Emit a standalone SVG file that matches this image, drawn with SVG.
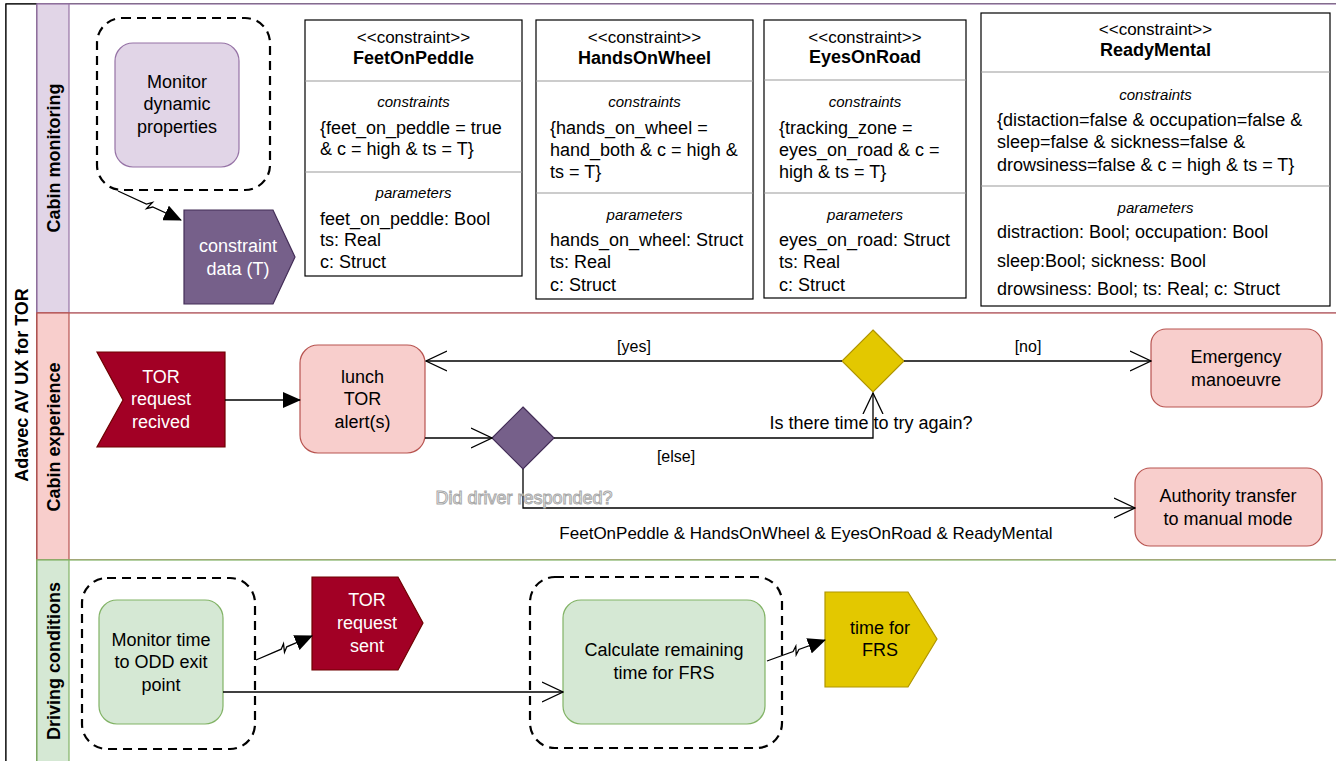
<svg xmlns="http://www.w3.org/2000/svg" width="1336" height="761" viewBox="0 0 1336 761">
<defs>
<style>
text{font-family:"Liberation Sans",Arial,Helvetica,sans-serif;fill:#000}
.t{font-size:18px;text-anchor:middle}
.w{fill:#fff}
.lane{font-size:18px;font-weight:bold;text-anchor:middle}
.st{font-size:17px;text-anchor:middle}
.nm{font-size:18px;font-weight:bold;text-anchor:middle}
.it{font-size:15px;font-style:italic;text-anchor:middle}
.bd{font-size:18px}
.el{font-size:16px;text-anchor:middle}
.dash{fill:none;stroke:#000;stroke-width:2.2;stroke-dasharray:9 6}
.box{fill:#fff;stroke:#000;stroke-width:1.2}
.div{stroke:#999;stroke-width:1}
.edge{fill:none;stroke:#000;stroke-width:1.3}
</style>
<marker id="block" markerUnits="userSpaceOnUse" markerWidth="18" markerHeight="16" viewBox="0 0 18 16" refX="17" refY="8" orient="auto">
<path d="M0,0 L18,8 L0,16 z" fill="#000"/>
</marker>
<marker id="open" markerUnits="userSpaceOnUse" markerWidth="22" markerHeight="22" viewBox="0 0 22 22" refX="21" refY="11" orient="auto">
<path d="M0,1 L21,11 L0,21" fill="none" stroke="#000" stroke-width="1.3"/>
</marker>
</defs>

<g id="pool">
<rect x="6" y="4" width="1340" height="780" fill="#fff" stroke="#000" stroke-width="1.2"/>
<rect x="6" y="4" width="31" height="780" fill="#fff" stroke="#000" stroke-width="1.2"/>
<text class="lane" transform="translate(28,385) rotate(-90)">Adavec AV UX for TOR</text>
</g>

<g id="lane-cabin-monitoring">
<rect x="37" y="4" width="1310" height="309" fill="#fff" stroke="#9673a6" stroke-width="1.2"/>
<rect x="37" y="4" width="32" height="309" fill="#e1d5e7" stroke="#9673a6" stroke-width="1.2"/>
<text class="lane" transform="translate(59.5,158) rotate(-90)">Cabin monitoring</text>
</g>
<g id="lane-cabin-experience">
<rect x="37" y="313" width="1310" height="247" fill="#fff" stroke="#b85450" stroke-width="1.2"/>
<rect x="37" y="313" width="32" height="247" fill="#f8cecc" stroke="#b85450" stroke-width="1.2"/>
<text class="lane" transform="translate(59.5,437) rotate(-90)">Cabin experience</text>
</g>
<g id="lane-driving-conditions">
<rect x="37" y="560" width="1310" height="224" fill="#fff" stroke="#82b366" stroke-width="1.2"/>
<rect x="37" y="560" width="32" height="224" fill="#d5e8d4" stroke="#82b366" stroke-width="1.2"/>
<text class="lane" transform="translate(59.5,661) rotate(-90)">Driving conditions</text>
</g>

<g id="group-monitor-dynamic">
<rect class="dash" x="97" y="18" width="173" height="172" rx="25"/>
</g>
<g id="monitor-dynamic-properties">
<rect x="115" y="43" width="124" height="124" rx="18" fill="#e1d5e7" stroke="#9673a6" stroke-width="1.2"/>
<text class="t" x="177" y="88">Monitor</text>
<text class="t" x="177" y="110">dynamic</text>
<text class="t" x="177" y="133">properties</text>
</g>
<g id="constraint-data">
<polygon points="184,210 273,210 295,257 273,304 184,304" fill="#76608a" stroke="#432d57" stroke-width="1.2"/>
<text class="t w" x="238" y="252">constraint</text>
<text class="t w" x="238" y="275">data (T)</text>
</g>

<g id="feet-on-peddle">
<rect class="box" x="305" y="20" width="217" height="256"/>
<line class="div" x1="305" y1="81" x2="522" y2="81"/>
<line class="div" x1="305" y1="172" x2="522" y2="172"/>
<text class="st" x="413.5" y="43">&lt;&lt;constraint&gt;&gt;</text>
<text class="nm" x="413.5" y="64">FeetOnPeddle</text>
<text class="it" x="413.5" y="107">constraints</text>
<text class="bd" x="320" y="134">{feet_on_peddle = true</text>
<text class="bd" x="320" y="155">&amp; c = high &amp; ts = T}</text>
<text class="it" x="413.5" y="198">parameters</text>
<text class="bd" x="320" y="225">feet_on_peddle: Bool</text>
<text class="bd" x="320" y="246">ts: Real</text>
<text class="bd" x="320" y="268">c: Struct</text>
</g>

<g id="hands-on-wheel">
<rect class="box" x="536" y="20" width="217" height="279"/>
<line class="div" x1="536" y1="81" x2="753" y2="81"/>
<line class="div" x1="536" y1="193" x2="753" y2="193"/>
<text class="st" x="644.5" y="43">&lt;&lt;constraint&gt;&gt;</text>
<text class="nm" x="644.5" y="64">HandsOnWheel</text>
<text class="it" x="644.5" y="107">constraints</text>
<text class="bd" x="550" y="134">{hands_on_wheel =</text>
<text class="bd" x="550" y="156">hand_both &amp; c = high &amp;</text>
<text class="bd" x="550" y="178">ts = T}</text>
<text class="it" x="644.5" y="220">parameters</text>
<text class="bd" x="550" y="246">hands_on_wheel: Struct</text>
<text class="bd" x="550" y="268">ts: Real</text>
<text class="bd" x="550" y="291">c: Struct</text>
</g>

<g id="eyes-on-road">
<rect class="box" x="764" y="20" width="202" height="278"/>
<line class="div" x1="764" y1="80" x2="966" y2="80"/>
<line class="div" x1="764" y1="193" x2="966" y2="193"/>
<text class="st" x="865" y="43">&lt;&lt;constraint&gt;&gt;</text>
<text class="nm" x="865" y="63">EyesOnRoad</text>
<text class="it" x="865" y="107">constraints</text>
<text class="bd" x="779" y="134">{tracking_zone =</text>
<text class="bd" x="779" y="156">eyes_on_road &amp; c =</text>
<text class="bd" x="779" y="178">high &amp; ts = T}</text>
<text class="it" x="865" y="220">parameters</text>
<text class="bd" x="779" y="246">eyes_on_road: Struct</text>
<text class="bd" x="779" y="268">ts: Real</text>
<text class="bd" x="779" y="291">c: Struct</text>
</g>

<g id="ready-mental">
<rect class="box" x="981" y="13" width="349" height="293"/>
<line class="div" x1="981" y1="72" x2="1330" y2="72"/>
<line class="div" x1="981" y1="186" x2="1330" y2="186"/>
<text class="st" x="1155.5" y="35">&lt;&lt;constraint&gt;&gt;</text>
<text class="nm" x="1155.5" y="56">ReadyMental</text>
<text class="it" x="1155.5" y="100">constraints</text>
<text class="bd" x="997" y="126">{distaction=false &amp; occupation=false &amp;</text>
<text class="bd" x="997" y="148">sleep=false &amp; sickness=false &amp;</text>
<text class="bd" x="997" y="171">drowsiness=false &amp; c = high &amp; ts = T}</text>
<text class="it" x="1155.5" y="213">parameters</text>
<text class="bd" x="997" y="238">distraction: Bool; occupation: Bool</text>
<text class="bd" x="997" y="267">sleep:Bool; sickness: Bool</text>
<text class="bd" x="997" y="295">drowsiness: Bool; ts: Real; c: Struct</text>
</g>

<g id="tor-request-recived">
<polygon points="97,352 225,352 225,447 97,447 123,400" fill="#a20025" stroke="#6f0000" stroke-width="1.2"/>
<text class="t w" x="161" y="383">TOR</text>
<text class="t w" x="161" y="405">request</text>
<text class="t w" x="161" y="428">recived</text>
</g>
<g id="lunch-tor-alerts">
<rect x="300" y="345" width="125" height="108" rx="18" fill="#f8cecc" stroke="#b85450" stroke-width="1.2"/>
<text class="t" x="362.5" y="383">lunch</text>
<text class="t" x="362.5" y="405">TOR</text>
<text class="t" x="362.5" y="428">alert(s)</text>
</g>
<g id="driver-responded">
<polygon points="523,407 554,438 523,469 492,438" fill="#76608a" stroke="#432d57" stroke-width="1.2"/>
</g>
<g id="time-to-try-again">
<polygon points="873,330 904,361 873,392 842,361" fill="#e3c800" stroke="#b09500" stroke-width="1.2"/>
</g>
<g id="emergency-manoeuvre">
<rect x="1151" y="329" width="171" height="78" rx="15" fill="#f8cecc" stroke="#b85450" stroke-width="1.2"/>
<text class="t" x="1236" y="363">Emergency</text>
<text class="t" x="1236" y="386">manoeuvre</text>
</g>
<g id="authority-transfer">
<rect x="1135" y="468" width="187" height="78" rx="15" fill="#f8cecc" stroke="#b85450" stroke-width="1.2"/>
<text class="t" x="1228" y="502">Authority transfer</text>
<text class="t" x="1228" y="525">to manual mode</text>
</g>

<g id="group-monitor-time">
<rect class="dash" x="82" y="578" width="173" height="171" rx="25"/>
</g>
<g id="monitor-time">
<rect x="99" y="600" width="124" height="124" rx="18" fill="#d5e8d4" stroke="#82b366" stroke-width="1.2"/>
<text class="t" x="161" y="646">Monitor time</text>
<text class="t" x="161" y="668">to ODD exit</text>
<text class="t" x="161" y="691">point</text>
</g>
<g id="tor-request-sent">
<polygon points="312,577 398,577 423,623 398,670 312,670" fill="#a20025" stroke="#6f0000" stroke-width="1.2"/>
<text class="t w" x="367" y="606">TOR</text>
<text class="t w" x="367" y="629">request</text>
<text class="t w" x="367" y="652">sent</text>
</g>
<g id="group-calculate">
<rect class="dash" x="530" y="577" width="252" height="171" rx="25"/>
</g>
<g id="calculate-remaining">
<rect x="563" y="600" width="202" height="124" rx="18" fill="#d5e8d4" stroke="#82b366" stroke-width="1.2"/>
<text class="t" x="664" y="656">Calculate remaining</text>
<text class="t" x="664" y="679">time for FRS</text>
</g>
<g id="time-for-frs">
<polygon points="825,592 908,592 937,639 908,687 825,687" fill="#e3c800" stroke="#b09500" stroke-width="1.2"/>
<text class="t" x="880" y="634">time for</text>
<text class="t" x="880" y="656">FRS</text>
</g>

<g id="connectors">
<path class="edge" d="M118,191 L146.4,204.1 L152.4,202.4 L146.6,208.6 L152.7,207 L181,220" marker-end="url(#block)"/>
<path class="edge" d="M225,400 L300,400" marker-end="url(#block)"/>
<path class="edge" d="M842,361 L426,361" marker-end="url(#open)"/>
<text class="el" x="634" y="352">[yes]</text>
<path class="edge" d="M904,361 L1151,361" marker-end="url(#open)"/>
<text class="el" x="1028" y="352">[no]</text>
<path class="edge" d="M425,438 L492,438" marker-end="url(#open)"/>
<path class="edge" d="M554,438 L873,438 L873,393" marker-end="url(#open)"/>
<text class="el" x="676" y="462">[else]</text>
<text class="t" x="871" y="429">Is there time to try again?</text>
<path class="edge" d="M523,469 L523,508 L1135,508" marker-end="url(#open)"/>
<text class="t" x="524" y="504" style="fill:#fff;stroke:#a8a8a8;stroke-width:1">Did driver responded?</text>
<text x="806" y="539" style="font-size:17px;text-anchor:middle">FeetOnPeddle &amp; HandsOnWheel &amp; EyesOnRoad &amp; ReadyMental</text>
<path class="edge" d="M256,660 L281.2,649.2 L283.5,643.8 L284.5,652.2 L286.8,646.8 L312,636" marker-end="url(#block)"/>
<path class="edge" d="M223,692 L563,692" marker-end="url(#open)"/>
<path class="edge" d="M767,661 L793.1,651.6 L795.8,646.3 L796.2,654.7 L798.9,649.5 L825,640" marker-end="url(#block)"/>
</g>
</svg>
